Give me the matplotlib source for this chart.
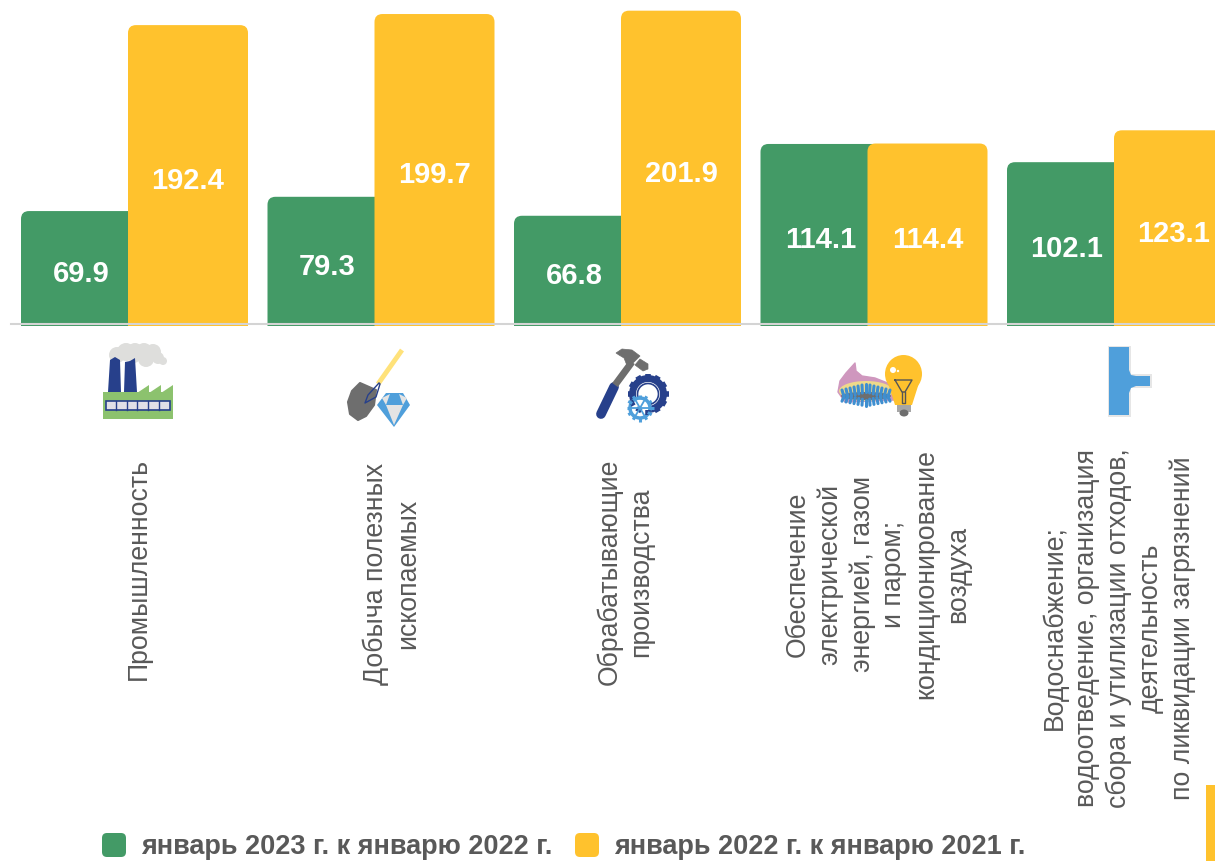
import matplotlib
matplotlib.use('Agg')
import matplotlib.pyplot as plt
import numpy as np
from matplotlib.patches import Circle, Ellipse, FancyBboxPatch, PathPatch, Polygon, Rectangle
from matplotlib.path import Path

plt.rcParams['font.family'] = ['Liberation Sans', 'DejaVu Sans']

categories = ['Промышленность',
              'Добыча полезных\nископаемых',
              'Обрабатывающие\nпроизводства',
              'Обеспечение\nэлектрической\nэнергией, газом\nи паром;\nкондиционирование\nвоздуха',
              'Водоснабжение;\nводоотведение, организация\nсбора и утилизации отходов,\nдеятельность\nпо ликвидации загрязнений']
values_2023 = [69.9, 79.3, 66.8, 114.1, 102.1]
values_2022 = [192.4, 199.7, 201.9, 114.4, 123.1]
legend_2023 = 'январь 2023 г. к январю 2022 г.'
legend_2022 = 'январь 2022 г. к январю 2021 г.'

GREEN = '#439A66'
YELLOW = '#FFC22D'
GREY = '#595959'
NAVY = '#27408B'
BLUE = '#4F9FDB'
DARK = '#6E6E6E'

W, H = 1215, 861
STEP = 246.5
BAR_W = 120 / STEP
OFFSET = 107 / STEP / 2
YMIN = -4.5
SCALE = 1.518   # px per unit

fig = plt.figure(figsize=(W / 100, H / 100), dpi=100)

# bars axes, top of the picture down to the baseline
BASE = 324
ax = fig.add_axes([0, 1 - BASE / H, 1, BASE / H])
ax.set_xlim(-134.5 / STEP, (W - 134.5) / STEP)
ax.set_ylim(YMIN, YMIN + BASE / SCALE)
ax.axis('off')


def round_bar(x, val, color, z):
    left = x - BAR_W / 2
    right = x + BAR_W / 2
    rx = 8 / STEP
    ry = 8 / SCALE
    low = YMIN - 2 / SCALE
    verts = [(left, low), (left, val - ry), (left, val), (left + rx, val),
             (right - rx, val), (right, val), (right, val - ry), (right, low),
             (left, low)]
    codes = [Path.MOVETO, Path.LINETO, Path.CURVE3, Path.CURVE3,
             Path.LINETO, Path.CURVE3, Path.CURVE3, Path.LINETO, Path.CLOSEPOLY]
    ax.add_patch(PathPatch(Path(verts, codes), fc=color, ec='none', zorder=z, clip_on=False))


for i in range(len(categories)):
    round_bar(i - OFFSET, values_2023[i], GREEN, 2)
    round_bar(i + OFFSET, values_2022[i], YELLOW, 3)
    ax.text(i - OFFSET, (values_2023[i] + YMIN) / 2 - 4.2, '%.1f' % values_2023[i], color='white',
            fontsize=21, fontweight='bold', ha='center', va='center', zorder=5)
    ax.text(i + OFFSET, (values_2022[i] + YMIN) / 2 - 4.2, '%.1f' % values_2022[i], color='white',
            fontsize=21, fontweight='bold', ha='center', va='center', zorder=5)

# overlay in pixel coordinates for the baseline, labels, icons and legend
ov = fig.add_axes([0, 0, 1, 1], facecolor='none')
ov.set_xlim(0, W)
ov.set_ylim(H, 0)
ov.axis('off')

ov.plot([11, W], [324, 324], color='#D4D4D4', lw=1.5, zorder=6)

label_x = [139, 392, 625, 878, 1119]
label_y = [569, 574, 572, 574, 628]
for name, lx, ly in zip(categories, label_x, label_y):
    ov.text(lx, ly, name, rotation=90, fontsize=19.2, color=GREY, ha='center', va='center',
            ma='center', linespacing=1.285)


def gear(cx, cy, r, teeth, color, lw):
    ang = np.linspace(0, 2 * np.pi, teeth, endpoint=False)
    for a in ang:
        ov.plot([cx + (r - 2) * np.cos(a), cx + (r + 2.5) * np.cos(a)],
                [cy + (r - 2) * np.sin(a), cy + (r + 2.5) * np.sin(a)],
                color=color, lw=lw, solid_capstyle='butt')


# factory icon
for cx, cy, r in [(117, 355, 8), (126, 352, 9), (135, 351, 8), (144, 351, 8), (153, 352, 8), (158, 358, 6),
                  (163, 361, 4), (146, 359, 8), (134, 357, 6)]:
    ov.add_patch(Circle((cx, cy), r, fc='#DEDEDC', ec='none'))
ov.add_patch(Rectangle((103, 392), 70, 27, fc='#8CC26E', ec='none'))
ov.add_patch(Polygon([(137, 393), (149, 385), (149, 393), (161, 385), (161, 393), (173, 385), (173, 393)],
                     fc='#8CC26E', ec='none'))
ov.add_patch(Polygon([(108, 392), (110, 360), (115, 357), (120, 360), (121, 392)], fc=NAVY, ec='none'))
ov.add_patch(Polygon([(124, 392), (125, 362), (130, 361), (135, 358), (137, 392)], fc=NAVY, ec='none'))
ov.add_patch(Rectangle((106, 401), 64, 9, fc='#E0E0E6', ec=NAVY, lw=1.2))
for wx in [116, 127, 137, 148, 159]:
    ov.plot([wx, wx], [401, 410], color=NAVY, lw=1)

# shovel and diamond icon
ov.plot([402, 378], [350, 384], color='#FFE27A', lw=3.5, solid_capstyle='butt')
ov.add_patch(Polygon([(360, 383), (376, 390), (374, 405), (366, 416), (358, 420), (350, 414), (348, 402), (352, 391)],
                     fc=DARK, ec=DARK, lw=1.5, joinstyle='round'))
ov.plot([379, 368, 365, 376, 380], [383, 395, 403, 397, 384], color=NAVY, lw=1)
ov.add_patch(Polygon([(377, 405), (386, 393), (403, 393), (410, 405), (394, 427)], fc=BLUE, ec='none'))
ov.add_patch(Polygon([(386, 405), (403, 405), (394, 425)], fc='#E4E4E4', ec='none'))
ov.add_patch(Polygon([(386, 405), (390, 394), (382, 398)], fc='#E4E4E4', ec='none'))
ov.add_patch(Polygon([(403, 405), (399, 394), (407, 398)], fc='#E4E4E4', ec='none'))

# hammer and gears icon
ov.plot([601, 614], [414, 387], color=NAVY, lw=7, solid_capstyle='round')
ov.plot([615, 632], [385, 362], color=DARK, lw=5, solid_capstyle='butt')
ov.add_patch(Polygon([(616, 353), (622, 349), (632, 350), (640, 356), (628, 368), (624, 358), (619, 355)],
                     fc=DARK, ec=DARK, lw=0.5))
ov.add_patch(Polygon([(640, 359), (648, 364), (648, 369), (643, 371), (635, 365)], fc=DARK, ec=DARK, lw=0.5))
gear(648, 394, 18, 12, NAVY, 4)
ov.add_patch(Circle((648, 394), 15.5, fc='none', ec=NAVY, lw=5))
ov.add_patch(Circle((648, 394), 10.5, fc='none', ec=NAVY, lw=1.2))
gear(640, 408, 11, 12, BLUE, 2.2)
ov.add_patch(Circle((640, 408), 10, fc='white', ec=BLUE, lw=2.5))
for a in [0, 60, 120]:
    dx = 9 * np.cos(np.radians(a))
    dy = 9 * np.sin(np.radians(a))
    ov.plot([640 - dx, 640 + dx], [408 - dy, 408 + dy], color=BLUE, lw=1.3)

# burner and bulb icon
ov.add_patch(Polygon([(838, 392), (840, 381), (846, 373), (855, 363), (856, 371), (862, 376), (875, 378), (890, 384),
                      (895, 400), (845, 402)], fc='#CF97BE', ec='#CF97BE', lw=1, joinstyle='round'))
ov.add_patch(Ellipse((866, 391), 54, 20, fc='#EFD98A', ec='none'))
for bx in np.arange(842, 892, 4):
    top = 384 + abs(bx - 866) / 4
    ov.plot([bx, bx + (866 - bx) * 0.1], [top, top + 8], color='#3F8FD0', lw=2.2, solid_capstyle='round')
    ov.plot([bx, bx + (866 - bx) * 0.1], [406 - abs(bx - 866) / 5, 400 - abs(bx - 866) / 5], color='#3F8FD0', lw=2.2,
            solid_capstyle='round')
ov.add_patch(Ellipse((866, 396), 50, 8, fc=DARK, ec='none'))
ov.add_patch(Rectangle((897, 403), 14, 9, fc='#A6A6A6', ec='none'))
ov.add_patch(Ellipse((904, 413), 9, 7, fc=DARK, ec='none'))
ov.add_patch(Ellipse((903.5, 374), 37, 38, fc=YELLOW, ec='none'))
ov.add_patch(Polygon([(888, 383), (919, 383), (912, 405), (895, 405)], fc=YELLOW, ec='none'))
ov.plot([895, 912, 905, 902, 895], [380, 380, 392, 392, 380], color='#555555', lw=1)
ov.plot([902, 902, 905, 905], [392, 403, 403, 392], color='#555555', lw=1)
ov.add_patch(Circle((893, 370), 3, fc='white', ec='none'))
ov.add_patch(Circle((898, 371), 1.2, fc='white', ec='none'))

# pipe icon
ov.add_patch(Rectangle((1108, 346), 23, 71, fc='#E6E6E6', ec='none'))
ov.add_patch(Rectangle((1109, 347), 20, 68, fc=BLUE, ec='none'))
ov.add_patch(Rectangle((1129, 374), 23, 14, fc='#E6E6E6', ec='none'))
ov.add_patch(Polygon([(1129, 370), (1131, 375), (1136, 376), (1150, 376), (1150, 386), (1136, 386), (1131, 388), (1129, 393)],
                     fc=BLUE, ec='none'))

# yellow strip in the bottom right corner
ov.add_patch(Rectangle((1206, 785), 9, 76, fc=YELLOW, ec='none'))

# legend
for mx, col, txt, tx in [(102, GREEN, legend_2023, 141), (575, YELLOW, legend_2022, 614)]:
    ov.add_patch(FancyBboxPatch((mx + 5, 838), 14, 14, boxstyle='round,pad=5,rounding_size=5', fc=col, ec='none'))
    ov.text(tx, 847, txt, fontsize=19.5, fontweight='bold', color=GREY, ha='left', va='center')

fig.savefig('out.png', dpi=100)
